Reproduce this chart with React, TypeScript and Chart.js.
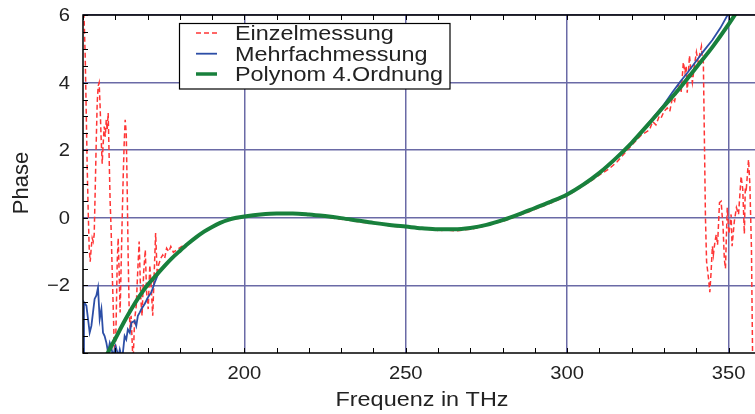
import React, { useEffect, useRef } from 'react';
import { Chart, registerables } from 'chart.js';
Chart.register(...registerables);

// ---- data ----
const X_MIN = 150;
const X_MAX = 358.2;
const Y_MIN = -4;
const Y_MAX = 6;
const X_TICKS = [200, 250, 300, 350];
const Y_TICKS = [-2, 0, 2, 4, 6];

const LEGEND_LABELS = ['Einzelmessung', 'Mehrfachmessung', 'Polynom 4.Ordnung'];

// Einzelmessung (red dashed)
const RED_FREQ = [
  150.06, 150.37, 150.68, 150.99, 151.3, 151.61, 151.92, 152.23, 152.54, 152.85,
  153.16, 153.47, 153.78, 154.09, 154.4, 154.7, 155.0, 155.3, 155.6, 155.95,
  156.25, 156.57, 156.9, 157.2, 157.5, 157.8, 158.1, 158.4, 158.7, 159.0,
  159.35, 159.66, 159.97, 160.28, 160.6, 160.9, 161.2, 161.5, 161.8, 162.1,
  162.45, 162.76, 163.07, 163.4, 163.7, 164.0, 164.3, 164.6, 164.9, 165.2,
  165.5, 166.0, 166.5, 166.9, 167.4, 167.9, 168.3, 168.8, 169.3, 169.7,
  170.2, 170.7, 171.1, 171.6, 172.0, 172.5, 173.0, 173.4, 174.1, 174.7,
  175.3, 175.9, 176.6, 177.2, 178.0, 180.5, 183.0, 185.5, 188.0, 190.5,
  193.0, 195.5, 198.0, 200.5, 203.0, 205.5, 208.0, 210.5, 213.0, 215.5,
  218.0, 220.5, 223.0, 225.5, 228.0, 230.5, 233.0, 235.5, 238.0, 240.5,
  243.0, 245.5, 248.0, 250.5, 253.0, 255.5, 258.0, 260.5, 263.0, 265.5,
  268.0, 270.5, 273.0, 275.5, 278.0, 280.5, 283.0, 285.5, 288.0, 290.5,
  293.0, 295.5, 298.0, 300.5, 303.0, 305.5, 308.0, 310.5, 313.0, 315.5,
  318.0, 320.5, 323.0, 325.5, 326.5, 327.5, 328.5, 329.1, 330.0, 331.0,
  331.8, 332.6, 333.3, 334.0, 334.75, 335.3, 336.0, 336.5, 336.9, 337.2,
  337.9, 338.4, 338.8, 339.4, 340.05, 340.6, 341.1, 341.6, 341.9, 342.2,
  342.85, 343.2, 343.8, 344.2, 344.6, 345.0, 345.3, 345.8, 346.2, 346.6,
  347.2, 347.7, 348.0, 348.3, 348.7, 349.05, 349.6, 350.1, 350.5, 350.8,
  351.1, 351.8, 352.45, 353.1, 353.9, 354.4, 354.9, 355.2, 355.5, 356.2,
  356.6, 357.1, 357.5,
];
const RED_PHASE = [
  6.3, 5.8, 4.8, 3.2, 1.5, 0.2, -0.9, -1.3, -0.9, -0.6,
  -0.7, -0.5, 0.8, 2.2, 3.4, 3.9, 4.0, 3.3, 2.4, 1.6,
  2.2, 2.7, 2.4, 2.9, 2.6, 3.1, 1.8, 0.5, -0.3, -1.4,
  -2.6, -3.7, -4.3, -3.0, -1.3, -0.6, -1.6, -2.8, -1.5, -0.2,
  1.2, 2.2, 2.9, 2.5, 0.8, -1.2, -2.7, -3.3, -2.9, -3.6,
  -4.3, -3.0, -2.6, -1.7, -0.7, -2.4, -2.9, -1.6, -0.95, -2.2,
  -2.7, -1.4, -2.0, -2.9, -1.8, -0.45, -1.7, -1.4, -1.2, -1.1,
  -1.2, -0.9, -1.0, -0.85, -1.02, -0.85, -0.74, -0.56, -0.4, -0.27,
  -0.15, -0.06, -0.02, 0.03, 0.07, 0.1, 0.11, 0.13, 0.12, 0.12,
  0.1, 0.08, 0.05, 0.02, -0.02, -0.05, -0.08, -0.12, -0.15, -0.17,
  -0.2, -0.24, -0.27, -0.29, -0.31, -0.33, -0.35, -0.38, -0.36, -0.39,
  -0.36, -0.33, -0.28, -0.22, -0.15, -0.09, 0.0, 0.09, 0.17, 0.27,
  0.36, 0.46, 0.56, 0.68, 0.83, 0.98, 1.13, 1.3, 1.45, 1.66,
  1.93, 2.2, 2.45, 2.6, 2.85, 2.75, 3.0, 2.95, 3.15, 3.25,
  3.15, 3.55, 3.45, 3.8, 4.0, 3.7, 4.6, 4.3, 4.5, 3.7,
  4.8, 4.3, 4.0, 4.5, 4.9, 4.6, 4.85, 5.07, 4.7, 4.6,
  0.0, -1.3, -1.8, -2.2, -1.6, -0.84, -1.1, -0.7, -0.49, -0.8,
  0.45, 0.49, 0.1, -0.25, -1.23, -1.5, 0.3, -0.47, -0.2, 0.1,
  -0.84, -0.1, 0.3, 0.1, 1.23, 0.85, -0.47, 0.9, 0.85, 1.72,
  1.0, -0.9, -4.5,
];

// Mehrfachmessung (blue)
const BLUE_FREQ = [
  150.0, 150.3, 151.05, 152.07, 152.6, 153.1, 153.6, 154.15, 154.65, 155.17,
  155.7, 156.2, 156.7, 157.25, 157.75, 158.3, 158.8, 159.3, 160.1, 161.0,
  161.4, 161.9, 162.3, 162.9, 163.4, 163.9, 164.5, 165.0, 166.0, 166.5,
  167.0, 167.6, 168.1, 169.1, 170.1, 171.2, 172.2, 173.2, 174.3, 175.3,
  177.5, 180, 182.5, 185, 187.5, 190, 192.5, 195, 197.5, 200,
  205, 210, 215, 220, 225, 230, 235, 240, 245, 250,
  255, 260, 265, 270, 275, 280, 285, 290, 295, 300,
  305, 310, 315, 320, 325, 330, 332.5, 335, 337.5, 340,
  342.5, 345, 347.5, 350, 351,
];
const BLUE_PHASE = [
  -4.3, -2.5, -2.6, -3.4, -3.2, -2.8, -2.4, -2.3, -2.07, -3.0,
  -2.7, -3.4, -3.5, -3.7, -3.97, -3.7, -3.85, -4.1, -3.8, -4.1,
  -3.9, -4.1, -4.05, -3.5, -3.6, -3.3, -3.4, -3.1, -3.05, -3.2,
  -2.9, -2.8, -2.7, -2.55, -2.36, -2.2, -1.92, -1.68, -1.53, -1.4,
  -1.2, -0.98, -0.77, -0.58, -0.41, -0.27, -0.15, -0.06, 0.0, 0.04,
  0.1, 0.13, 0.13, 0.1, 0.05, -0.01, -0.08, -0.15, -0.21, -0.26,
  -0.31, -0.34, -0.34, -0.3, -0.21, -0.07, 0.1, 0.29, 0.48, 0.69,
  0.98, 1.33, 1.75, 2.22, 2.78, 3.35, 3.7, 4.02, 4.32, 4.64,
  4.96, 5.26, 5.62, 6.05, 6.2,
];

// Polynom 4.Ordnung (green)
const GREEN_FREQ = [
  155, 157.5, 160, 162.5, 165, 167.5, 170, 172.5, 175, 177.5,
  180, 182.5, 185, 187.5, 190, 192.5, 195, 197.5, 200, 205,
  210, 215, 220, 225, 230, 235, 240, 245, 250, 255,
  260, 265, 270, 275, 280, 285, 290, 295, 300, 305,
  310, 315, 320, 325, 330, 335, 340, 345, 350, 355,
];
const GREEN_PHASE = [
  -4.5, -4.03, -3.58, -3.12, -2.7, -2.32, -1.99, -1.72, -1.45, -1.2,
  -0.98, -0.77, -0.58, -0.41, -0.27, -0.15, -0.06, 0.0, 0.04, 0.1,
  0.13, 0.13, 0.1, 0.05, -0.01, -0.08, -0.15, -0.21, -0.26, -0.31,
  -0.34, -0.34, -0.3, -0.21, -0.07, 0.1, 0.29, 0.48, 0.69, 0.98,
  1.33, 1.75, 2.22, 2.75, 3.3, 3.85, 4.45, 5.05, 5.72, 6.45,
];

const RED = '#ff3535';
const BLUE = '#2c4ea6';
const GREEN = '#18803c';
const GRID = '#6a6aa6';
const FONT = '"Liberation Sans", Arial, Helvetica, sans-serif';
const TEXT = '#222';

const pts = (xs: number[], ys: number[]) => xs.map((x, i) => ({ x, y: ys[i] }));

const fmt = (v: number) => (v < 0 ? '\u2212' + Math.abs(v) : String(v));

const overlay = {
  id: 'overlay',
  afterDraw(chart: any) {
    const { ctx, chartArea, scales } = chart;
    const { left, right, top, bottom } = chartArea;
    const xs = scales.x;
    const ys = scales.y;
    ctx.save();
    // frame
    ctx.strokeStyle = '#000';
    ctx.lineWidth = 1.5;
    ctx.beginPath();
    ctx.moveTo(right + 2, top);
    ctx.lineTo(left, top);
    ctx.lineTo(left, bottom);
    ctx.lineTo(right + 2, bottom);
    ctx.stroke();
    // minor ticks
    ctx.lineWidth = 1;
    ctx.beginPath();
    for (let v = Y_MIN; v <= Y_MAX + 1e-6; v += 0.5) {
      const py = Math.round(ys.getPixelForValue(v)) + 0.5;
      ctx.moveTo(left, py);
      ctx.lineTo(left + 5, py);
    }
    for (let f = 150; f <= X_MAX; f += 10) {
      const px = Math.round(xs.getPixelForValue(f)) + 0.5;
      ctx.moveTo(px, bottom);
      ctx.lineTo(px, bottom - 5);
      ctx.moveTo(px, top);
      ctx.lineTo(px, top + 5);
    }
    ctx.stroke();

    // tick labels
    ctx.fillStyle = TEXT;
    ctx.font = `18px ${FONT}`;
    ctx.textBaseline = 'middle';
    for (const v of X_TICKS) {
      const px = xs.getPixelForValue(v);
      ctx.save();
      ctx.translate(px, 374);
      ctx.scale(1.12, 1);
      ctx.textAlign = 'center';
      ctx.fillText(fmt(v), 0, 0);
      ctx.restore();
    }
    for (const v of Y_TICKS) {
      const py = ys.getPixelForValue(v);
      ctx.save();
      ctx.translate(70, py + 1);
      ctx.scale(1.12, 1);
      ctx.textAlign = 'right';
      ctx.fillText(fmt(v), 0, 0);
      ctx.restore();
    }

    // axis titles
    ctx.font = `20px ${FONT}`;
    ctx.textBaseline = 'alphabetic';
    ctx.save();
    ctx.translate((left + right) / 2 + 3, 406);
    ctx.scale(1.17, 1);
    ctx.textAlign = 'center';
    ctx.fillText('Frequenz in THz', 0, 0);
    ctx.restore();

    ctx.save();
    ctx.translate(28, 183);
    ctx.rotate(-Math.PI / 2);
    ctx.font = `22px ${FONT}`;
    ctx.textAlign = 'center';
    ctx.fillText('Phase', 0, 0);
    ctx.restore();

    // legend
    ctx.fillStyle = '#fff';
    ctx.fillRect(179.5, 23.5, 270.5, 65.5);
    ctx.strokeStyle = '#000';
    ctx.lineWidth = 1.2;
    ctx.strokeRect(179.5, 23.5, 270.5, 65.5);
    const baselines = [40, 60.7, 81];
    const colors = [RED, BLUE, GREEN];
    const widths = [1.5, 1.8, 3.5];
    LEGEND_LABELS.forEach((label, i) => {
      const ly = baselines[i] - 7;
      ctx.strokeStyle = colors[i];
      ctx.lineWidth = widths[i];
      ctx.setLineDash(i === 0 ? [5, 3] : []);
      ctx.beginPath();
      ctx.moveTo(196, ly);
      ctx.lineTo(217, ly);
      ctx.stroke();
      ctx.setLineDash([]);
      ctx.fillStyle = TEXT;
      ctx.save();
      ctx.translate(235, baselines[i]);
      ctx.scale(1.17, 1);
      ctx.textAlign = 'left';
      ctx.fillText(label, 0, 0);
      ctx.restore();
    });
    ctx.restore();
  },
};

export default function App() {
  const ref = useRef<HTMLCanvasElement>(null);
  useEffect(() => {
    document.body.style.margin = '0';
    const chart = new Chart(ref.current as HTMLCanvasElement, {
      type: 'line',
      data: {
        datasets: [
          {
            label: LEGEND_LABELS[2],
            data: pts(GREEN_FREQ, GREEN_PHASE),
            borderColor: GREEN,
            borderWidth: 4,
            pointRadius: 0,
            cubicInterpolationMode: 'monotone',
            order: 0,
            clip: 0,
          },
          {
            label: LEGEND_LABELS[1],
            data: pts(BLUE_FREQ, BLUE_PHASE),
            borderColor: BLUE,
            borderWidth: 1.8,
            pointRadius: 0,
            tension: 0,
            order: 1,
            clip: 0,
          },
          {
            label: LEGEND_LABELS[0],
            data: pts(RED_FREQ, RED_PHASE),
            borderColor: RED,
            borderWidth: 1.5,
            borderDash: [5, 3],
            pointRadius: 0,
            tension: 0,
            order: 2,
            clip: 0,
          },
        ] as any,
      },
      options: {
        responsive: false,
        animation: false,
        devicePixelRatio: 1,
        layout: { padding: { left: 0, right: 0, top: 15, bottom: 0 } },
        plugins: { legend: { display: false }, tooltip: { enabled: false } },
        scales: {
          x: {
            type: 'linear',
            min: X_MIN,
            max: X_MAX,
            afterBuildTicks: (s: any) => {
              s.ticks = X_TICKS.map((value) => ({ value }));
            },
            afterFit: (s: any) => {
              s.height = 61;
            },
            ticks: { display: false },
            grid: { color: GRID, lineWidth: 1.5, drawTicks: false },
            border: { display: false },
          },
          y: {
            type: 'linear',
            min: Y_MIN,
            max: Y_MAX,
            afterBuildTicks: (s: any) => {
              s.ticks = Y_TICKS.map((value) => ({ value }));
            },
            afterFit: (s: any) => {
              s.width = 83;
            },
            ticks: { display: false },
            grid: { color: GRID, lineWidth: 1.5, drawTicks: false },
            border: { display: false },
          },
        },
      } as any,
      plugins: [overlay],
    });
    return () => chart.destroy();
  }, []);
  return (
    <div style={{ width: 755, height: 414, overflow: 'hidden', background: '#fff' }}>
      <canvas ref={ref} width={755} height={414} style={{ display: 'block' }} />
    </div>
  );
}
